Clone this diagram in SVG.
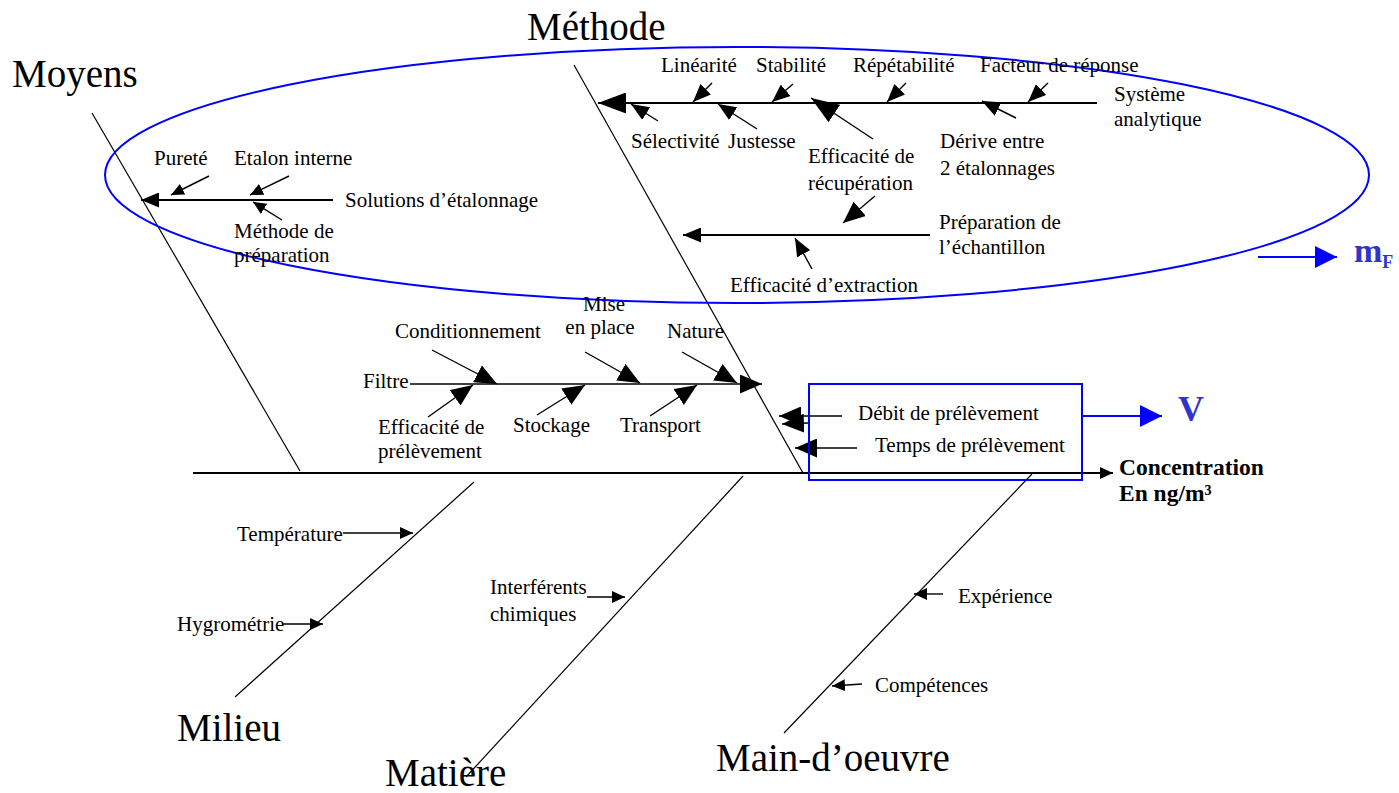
<svg xmlns="http://www.w3.org/2000/svg" width="1399" height="793" viewBox="0 0 1399 793">
<style>
text{font-family:"Liberation Serif","Times New Roman",serif;fill:#000}
.t{font-size:21px}
.big{font-size:39px}
.b{font-weight:bold}
.bl{fill:#3333cc;font-weight:bold}
.bone{stroke:#000;stroke-width:1.2;fill:none}
.ln{stroke:#000;stroke-width:1.4;fill:none}
.lm{stroke:#000;stroke-width:2;fill:none}
.blue{stroke:#0000ff;stroke-width:2;fill:none}
</style>
<defs>
<marker id="hs" markerUnits="userSpaceOnUse" markerWidth="13" markerHeight="12" refX="13" refY="6" orient="auto"><path d="M0,0L13,6L0,12z" fill="#000"/></marker>
<marker id="hm" markerUnits="userSpaceOnUse" markerWidth="18" markerHeight="15" refX="18" refY="7.5" orient="auto"><path d="M0,0L18,7.5L0,15z" fill="#000"/></marker>
<marker id="hl" markerUnits="userSpaceOnUse" markerWidth="22" markerHeight="19" refX="22" refY="9.5" orient="auto"><path d="M0,0L22,9.5L0,19z" fill="#000"/></marker>
<marker id="hx" markerUnits="userSpaceOnUse" markerWidth="28" markerHeight="21" refX="28" refY="10.5" orient="auto"><path d="M0,0L28,10.5L0,21z" fill="#000"/></marker>
<marker id="hb" markerUnits="userSpaceOnUse" markerWidth="22" markerHeight="22" refX="22" refY="11" orient="auto"><path d="M0,0L22,11L0,22z" fill="#0000ff"/></marker>
</defs>
<rect width="1399" height="793" fill="#fff"/>

<g id="connectors">
<line class="bone" x1="92" y1="113" x2="300" y2="471"/>
<line class="bone" x1="574" y1="65" x2="803" y2="473"/>
<line class="bone" x1="474" y1="482" x2="235" y2="697"/>
<line class="bone" x1="743" y1="476" x2="466" y2="777"/>
<line class="bone" x1="1032" y1="474" x2="784" y2="733"/>
<line class="lm" x1="193" y1="473" x2="1113" y2="473" marker-end="url(#hs)"/>
<line class="lm" x1="1097" y1="103" x2="598" y2="103" marker-end="url(#hx)"/>
<line class="ln" x1="658" y1="121" x2="631" y2="104" marker-end="url(#hm)"/>
<line class="ln" x1="712" y1="83" x2="693" y2="102" marker-end="url(#hm)"/>
<line class="ln" x1="757" y1="129" x2="718" y2="104" marker-end="url(#hm)"/>
<line class="ln" x1="793" y1="84" x2="772" y2="102" marker-end="url(#hm)"/>
<line class="ln" x1="873" y1="139" x2="811" y2="98" marker-end="url(#hx)"/>
<line class="ln" x1="906" y1="83" x2="887" y2="102" marker-end="url(#hm)"/>
<line class="ln" x1="1016" y1="118" x2="982" y2="101" marker-end="url(#hm)"/>
<line class="ln" x1="1048" y1="83" x2="1028" y2="102" marker-end="url(#hm)"/>
<line class="ln" x1="875" y1="196" x2="843" y2="223" marker-end="url(#hl)"/>
<line class="lm" x1="930" y1="235" x2="683" y2="235" marker-end="url(#hm)"/>
<line class="ln" x1="812" y1="269" x2="795" y2="238" marker-end="url(#hm)"/>
<line class="lm" x1="333" y1="200" x2="141" y2="200" marker-end="url(#hm)"/>
<line class="ln" x1="209" y1="176" x2="171" y2="195" marker-end="url(#hs)"/>
<line class="ln" x1="289" y1="176" x2="250" y2="195" marker-end="url(#hs)"/>
<line class="ln" x1="282" y1="220" x2="253" y2="202" marker-end="url(#hs)"/>
<line class="ln" x1="410" y1="384" x2="762" y2="384" marker-end="url(#hl)"/>
<line class="ln" x1="432" y1="350" x2="497" y2="384" marker-end="url(#hl)"/>
<line class="ln" x1="585" y1="352" x2="640" y2="383" marker-end="url(#hl)"/>
<line class="ln" x1="682" y1="352" x2="737" y2="383" marker-end="url(#hl)"/>
<line class="ln" x1="428" y1="417" x2="473" y2="385" marker-end="url(#hl)"/>
<line class="ln" x1="537" y1="415" x2="585" y2="385" marker-end="url(#hl)"/>
<line class="ln" x1="650" y1="416" x2="697" y2="385" marker-end="url(#hl)"/>
<line class="ln" x1="842" y1="416" x2="779" y2="416" marker-end="url(#hl)"/>
<line class="ln" x1="808" y1="423" x2="782" y2="424" marker-end="url(#hl)"/>
<line class="ln" x1="857" y1="448" x2="795" y2="448" marker-end="url(#hl)"/>
<line class="blue" x1="1082" y1="416" x2="1162" y2="416" marker-end="url(#hb)"/>
<line class="blue" x1="1258" y1="257" x2="1337" y2="257" marker-end="url(#hb)"/>
<line class="ln" x1="343" y1="533" x2="413" y2="533" marker-end="url(#hs)"/>
<line class="ln" x1="283" y1="624" x2="323" y2="624" marker-end="url(#hs)"/>
<line class="ln" x1="587" y1="597" x2="625" y2="597" marker-end="url(#hs)"/>
<line class="ln" x1="943" y1="594" x2="914" y2="594" marker-end="url(#hs)"/>
<line class="ln" x1="862" y1="684" x2="832" y2="686" marker-end="url(#hs)"/>
</g>

<g id="scope">
<ellipse cx="737" cy="175" rx="632" ry="128" class="blue"/>
<rect x="809" y="384" width="273" height="96" class="blue"/>
</g>

<g id="moyens"><text class="big" x="12" y="87">Moyens</text></g>
<g id="methode"><text class="big" x="527" y="40">Méthode</text></g>
<g id="milieu"><text class="big" x="177" y="741">Milieu</text></g>
<g id="matiere"><text class="big" x="385" y="786">Matière</text></g>
<g id="main-oeuvre"><text class="big" x="716" y="771">Main-d’oeuvre</text></g>

<g id="linearite"><text class="t" x="661" y="72">Linéarité</text></g>
<g id="stabilite"><text class="t" x="756" y="72">Stabilité</text></g>
<g id="repetabilite"><text class="t" x="853" y="72">Répétabilité</text></g>
<g id="facteur"><text class="t" x="980" y="72">Facteur de réponse</text></g>
<g id="systeme"><text class="t" x="1114" y="101">Système</text><text class="t" x="1114" y="126">analytique</text></g>
<g id="selectivite"><text class="t" x="631" y="148">Sélectivité</text></g>
<g id="justesse"><text class="t" x="728" y="148">Justesse</text></g>
<g id="recuperation"><text class="t" x="808" y="163">Efficacité de</text><text class="t" x="808" y="190">récupération</text></g>
<g id="derive"><text class="t" x="940" y="148">Dérive entre</text><text class="t" x="940" y="175">2 étalonnages</text></g>
<g id="preparation-ech"><text class="t" x="939" y="229">Préparation de</text><text class="t" x="939" y="254">l’échantillon</text></g>
<g id="extraction"><text class="t" x="730" y="292">Efficacité d’extraction</text></g>

<g id="purete"><text class="t" x="154" y="165">Pureté</text></g>
<g id="etalon"><text class="t" x="234" y="165">Etalon interne</text></g>
<g id="solutions"><text class="t" x="345" y="207">Solutions d’étalonnage</text></g>
<g id="methode-prep"><text class="t" x="234" y="238">Méthode de</text><text class="t" x="234" y="262">préparation</text></g>

<g id="conditionnement"><text class="t" x="395" y="338">Conditionnement</text></g>
<g id="mise"><text class="t" x="604" y="311" text-anchor="middle">Mise</text><text class="t" x="600" y="334" text-anchor="middle">en place</text></g>
<g id="nature"><text class="t" x="667" y="338">Nature</text></g>
<g id="filtre"><text class="t" x="363" y="388">Filtre</text></g>
<g id="eff-prelev"><text class="t" x="378" y="434">Efficacité de</text><text class="t" x="378" y="458">prélèvement</text></g>
<g id="stockage"><text class="t" x="513" y="432">Stockage</text></g>
<g id="transport"><text class="t" x="620" y="432">Transport</text></g>

<g id="debit"><text class="t" x="858" y="420">Débit de prélèvement</text></g>
<g id="temps"><text class="t" x="875" y="452">Temps de prélèvement</text></g>
<g id="v"><text class="bl" x="1178" y="421" font-size="36">V</text></g>
<g id="mf"><text class="bl" x="1354" y="262" font-size="34">m<tspan font-size="18" dy="6">F</tspan></text></g>
<g id="concentration"><text class="b" x="1119" y="475" font-size="23.5">Concentration</text><text class="b" x="1119" y="501" font-size="23.5">En ng/m³</text></g>

<g id="temperature"><text class="t" x="237" y="541">Température</text></g>
<g id="hygrometrie"><text class="t" x="177" y="631">Hygrométrie</text></g>
<g id="interferents"><text class="t" x="490" y="594">Interférents</text><text class="t" x="490" y="621">chimiques</text></g>
<g id="experience"><text class="t" x="958" y="603">Expérience</text></g>
<g id="competences"><text class="t" x="875" y="692">Compétences</text></g>
</svg>
